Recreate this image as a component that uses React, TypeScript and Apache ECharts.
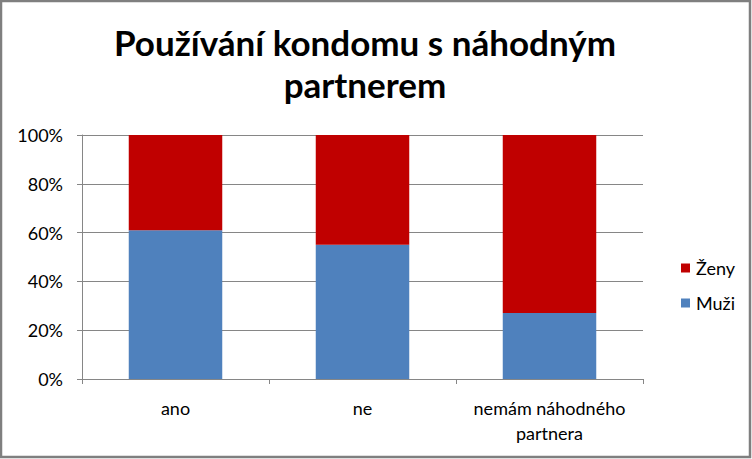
import React, { useEffect, useRef } from "react";
import * as echarts from "echarts";

const categories = ["ano", "ne", "nemám náhodného\npartnera"];
const muzi = [61, 55, 27];
const zeny = [39, 45, 73];
const yTicks = [0, 20, 40, 60, 80, 100];
const titleLines = ["Používání kondomu s náhodným", "partnerem"];

export default function App() {
  const ref = useRef<HTMLDivElement>(null);
  useEffect(() => {
    if (!ref.current) return;
    const chart = echarts.init(ref.current, null, { renderer: "svg" });
    const font = "Lato";
    chart.setOption({
      animation: false,
      backgroundColor: "#ffffff",
      textStyle: { fontFamily: font },
      graphic: [
        {
          type: "rect",
          shape: { x: 1, y: 1, width: 749, height: 456 },
          style: { fill: "none", stroke: "#7f7f7f", lineWidth: 2.5 },
          silent: true,
        },
        {
          type: "text",
          x: 365,
          y: 21,
          style: {
            text: titleLines.join("\n"),
            fontFamily: font,
            fontWeight: "bold",
            fontSize: 35,
            lineHeight: 42,
            fill: "#000",
            align: "center",
          },
        },
      ],
      legend: {
        orient: "vertical",
        left: 676,
        top: 254,
        itemWidth: 9,
        itemHeight: 9,
        itemGap: 17,
        icon: "rect",
        data: ["Ženy", "Muži"],
        textStyle: { fontFamily: font, fontSize: 18, color: "#000", padding: [0, 0, 0, 1] },
      },
      grid: { left: 82, right: 109, top: 135, bottom: 80, containLabel: false },
      xAxis: {
        type: "category",
        data: categories,
        axisLine: { show: true, lineStyle: { color: "#868686", width: 1 } },
        axisTick: { show: true, length: 5, lineStyle: { color: "#868686" } },
        axisLabel: {
          color: "#000",
          fontFamily: font,
          fontSize: 18,
          margin: 16,
          lineHeight: 25,
          interval: 0,
        },
      },
      yAxis: {
        type: "value",
        min: 0,
        max: 100,
        interval: 20,
        axisLine: { show: true, lineStyle: { color: "#868686", width: 1 } },
        axisTick: { show: true, length: 5, lineStyle: { color: "#868686" } },
        splitLine: { show: true, lineStyle: { color: "#868686", width: 1 } },
        axisLabel: {
          color: "#000",
          fontFamily: font,
          fontSize: 18,
          margin: 19,
          formatter: (v: number) => (yTicks.includes(v) ? v + "%" : ""),
        },
      },
      series: [
        {
          name: "Muži",
          type: "bar",
          stack: "total",
          data: muzi,
          barWidth: "50%",
          itemStyle: { color: "#4f81bd" },
        },
        {
          name: "Ženy",
          type: "bar",
          stack: "total",
          data: zeny,
          barWidth: "50%",
          itemStyle: { color: "#c00000" },
        },
      ],
    });
    return () => chart.dispose();
  }, []);
  return (
    <div
      ref={ref}
      style={{ position: "fixed", left: 0, top: 0, width: 752, height: 459 }}
    />
  );
}
